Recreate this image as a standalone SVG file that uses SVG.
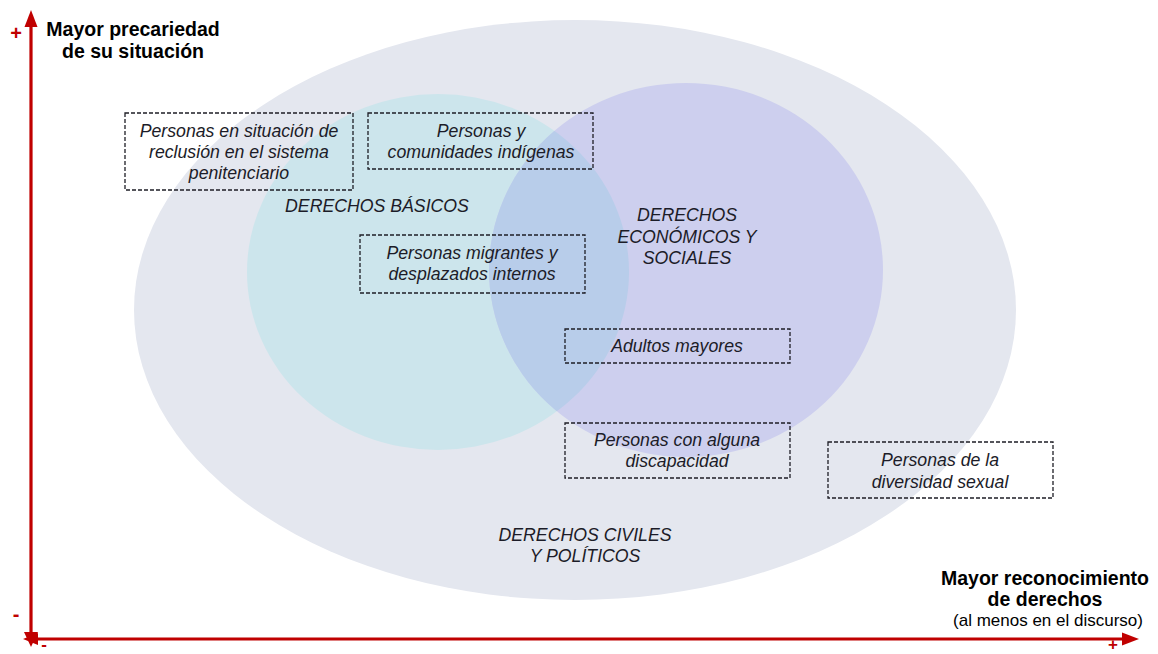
<svg xmlns="http://www.w3.org/2000/svg" width="1158" height="654" viewBox="0 0 1158 654">
<style>
.box{fill:none;stroke:#1e1e26;stroke-width:1.3;stroke-dasharray:4 2}
.lbl{font-family:"Liberation Sans",Arial,sans-serif;font-style:italic;font-size:17.7px;fill:#1c1c28;text-anchor:middle}
.ttl{font-family:"Liberation Sans",Arial,sans-serif;font-weight:bold;font-size:19.5px;fill:#000;text-anchor:middle}
.sub{font-family:"Liberation Sans",Arial,sans-serif;font-size:17px;fill:#000;text-anchor:middle}
.sign{font-family:"Liberation Sans",Arial,sans-serif;font-weight:bold;font-size:20px;fill:#C00000;text-anchor:middle}
.signs{font-family:"Liberation Sans",Arial,sans-serif;font-weight:bold;font-size:17px;fill:#C00000;text-anchor:middle}
.axis{stroke:#C00000;stroke-width:3.2;fill:none}
</style>
<defs>
<clipPath id="cyanClip"><ellipse cx="438" cy="272" rx="191" ry="178"/></clipPath>
</defs>
<rect width="1158" height="654" fill="#fff"/>
<g id="sets">
<ellipse id="civiles" cx="575" cy="310" rx="441" ry="290" fill="#E4E7EF"/>
<ellipse id="basicos" cx="438" cy="272" rx="191" ry="178" fill="#CCE5EC"/>
<ellipse id="economicos" cx="686" cy="270" rx="197" ry="187" fill="#CDCFEE"/>
<ellipse cx="686" cy="270" rx="197" ry="187" fill="#B8CDEA" clip-path="url(#cyanClip)"/>
</g>
<g id="connectors">
<line class="axis" x1="31" y1="640" x2="31" y2="24"/>
<polygon points="31,10 24.5,27 37.5,27" fill="#C00000"/>
<line class="axis" x1="30" y1="639" x2="1124" y2="639"/>
<polygon points="1139,639 1122,632.5 1122,645.5" fill="#C00000"/>
<polygon points="24,632 38,632 31,647" fill="#C00000"/>
<polygon points="38,633 38,645 23,639" fill="#C00000"/>
</g>
<g id="axis-labels">
<text class="ttl" x="133" y="36">Mayor precariedad</text>
<text class="ttl" x="133" y="58">de su situación</text>
<text class="ttl" x="1045" y="585">Mayor reconocimiento</text>
<text class="ttl" x="1045" y="606">de derechos</text>
<text class="sub" x="1048" y="626">(al menos en el discurso)</text>
<text class="sign" x="16" y="40">+</text>
<text class="sign" x="16" y="621">-</text>
<text class="signs" x="44" y="650">-</text>
<text class="signs" x="1113" y="650">+</text>
</g>
<g id="set-labels">
<text class="lbl" x="377" y="212">DERECHOS BÁSICOS</text>
<text class="lbl" x="687" y="221">DERECHOS</text>
<text class="lbl" x="687" y="243">ECONÓMICOS Y</text>
<text class="lbl" x="687" y="264">SOCIALES</text>
<text class="lbl" x="585" y="541">DERECHOS CIVILES</text>
<text class="lbl" x="585" y="562">Y POLÍTICOS</text>
</g>
<g id="node-reclusion">
<rect class="box" x="125" y="113" width="228" height="77"/>
<text class="lbl" x="239" y="137">Personas en situación de</text>
<text class="lbl" x="239" y="158">reclusión en el sistema</text>
<text class="lbl" x="239" y="179">penitenciario</text>
</g>
<g id="node-indigenas">
<rect class="box" x="368" y="113" width="225" height="56"/>
<text class="lbl" x="481" y="137">Personas y</text>
<text class="lbl" x="481" y="158">comunidades indígenas</text>
</g>
<g id="node-migrantes">
<rect class="box" x="360" y="235" width="225" height="58"/>
<text class="lbl" x="472" y="259">Personas migrantes y</text>
<text class="lbl" x="472" y="280">desplazados internos</text>
</g>
<g id="node-adultos">
<rect class="box" x="565" y="329" width="225" height="34"/>
<text class="lbl" x="677" y="352">Adultos mayores</text>
</g>
<g id="node-discapacidad">
<rect class="box" x="565" y="423" width="225" height="55"/>
<text class="lbl" x="677" y="446">Personas con alguna</text>
<text class="lbl" x="677" y="467">discapacidad</text>
</g>
<g id="node-diversidad">
<rect class="box" x="828" y="442" width="225" height="56"/>
<text class="lbl" x="940" y="466">Personas de la</text>
<text class="lbl" x="940" y="488">diversidad sexual</text>
</g>
</svg>
